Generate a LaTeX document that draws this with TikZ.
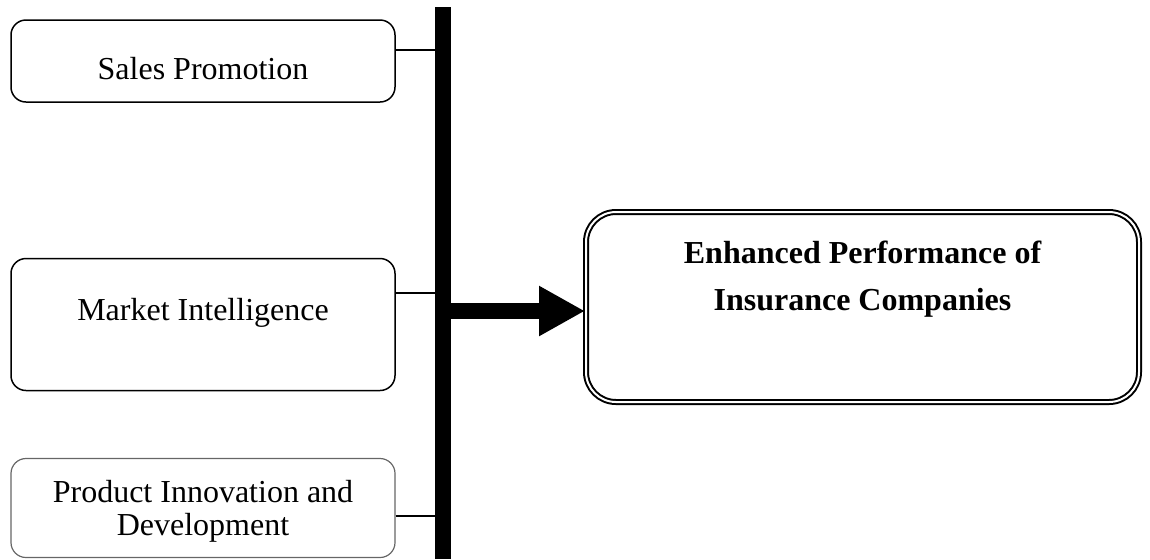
\documentclass[tikz,border=0pt]{standalone}
\usepackage{fontspec}
\setmainfont{Liberation Serif}
\usetikzlibrary{arrows.meta}
\tikzset{%
  sidebox/.style={draw,rounded corners=7.5pt,line width=0.75pt,minimum width=192pt,align=center,font=\fontsize{16}{16.5}\selectfont},
  mainbox/.style={draw,double,double distance=1pt,line width=1pt,rounded corners=15pt,minimum width=276.5pt,minimum height=95pt,align=center,font=\bfseries\fontsize{16}{23.5}\selectfont},
  link/.style={draw=black,line width=0.7pt},
  spine/.style={draw=black,line width=8pt},
  bigarrow/.style={-{Triangle[length=23pt,width=23.5pt]},line width=8pt}
}
\begin{document}
\begin{tikzpicture}[x=0.5pt,y=-0.5pt]
    \useasboundingbox (0,0) rectangle (1150,559);
    % left factors
    \node (sales)[sidebox,minimum height=41pt,text height=18pt,text depth=0pt] at (203,61) {Sales Promotion};
    \node (market)[sidebox,minimum height=66pt,text height=11pt,text depth=15.5pt] at (203,324.5) {Market Intelligence};
    \node (product)[sidebox,draw=black!60,line width=0.6pt,minimum height=49.5pt,text height=27.5pt,text depth=0.5pt] at (203,508) {Product Innovation and\\Development};
    % outcome
    \node (perf)[mainbox,text height=35.5pt,text depth=32.5pt] at (862.5,307) {Enhanced Performance of\\Insurance Companies};
    % spine and joins
    \coordinate (bartop) at (443,7);
    \coordinate (barbot) at (443,559);
    \coordinate (j1) at (443,50);
    \coordinate (j2) at (443,293);
    \coordinate (j3) at (443,516);
    \coordinate (hub) at (443,311);
    \draw[spine] (bartop) -- (barbot);
    \draw[link] (sales.east |- j1) -- (j1);
    \draw[link] (market.east |- j2) -- (j2);
    \draw[link] (product.east |- j3) -- (j3);
    \draw[bigarrow] (hub) -- (hub -| perf.west);
  \end{tikzpicture}
\end{document}
